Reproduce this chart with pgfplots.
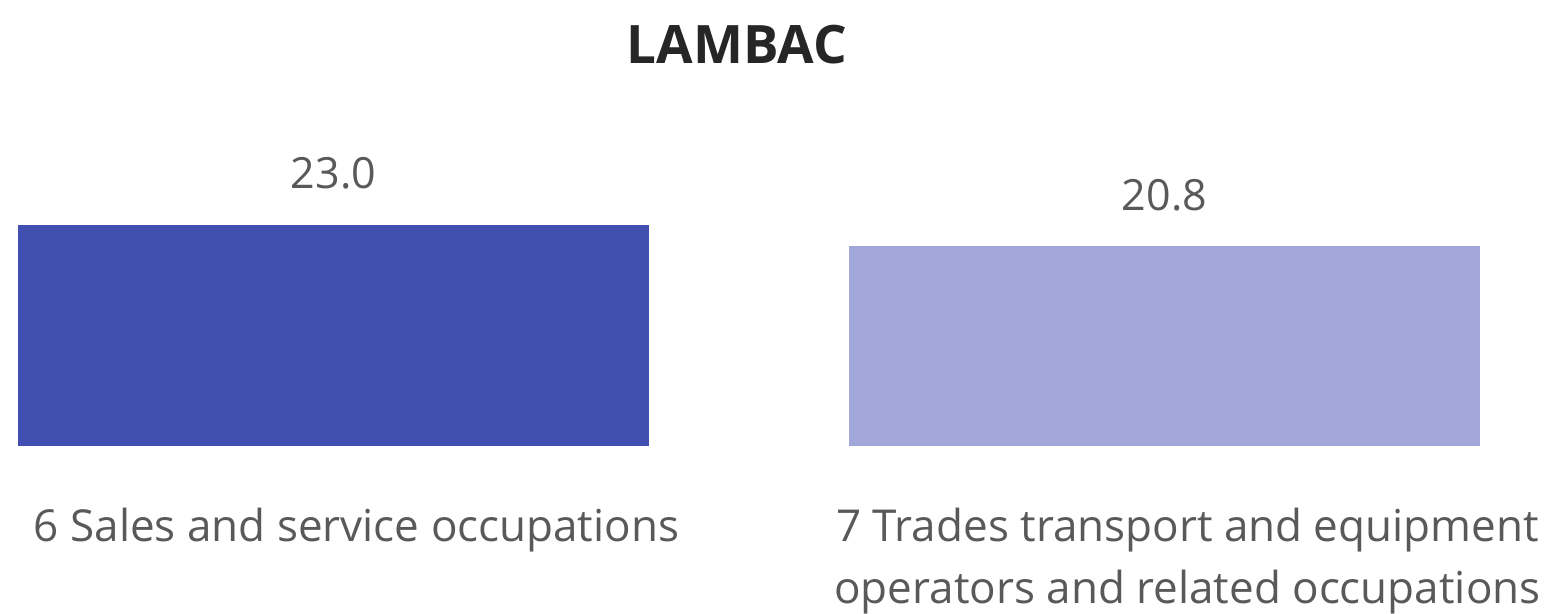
\documentclass[border=0pt]{standalone}
\usepackage{pgfplots}
\pgfplotsset{compat=1.18}
\usepackage{fontspec}
\setmainfont{Open Sans}
\definecolor{barA}{HTML}{4150B0}
\definecolor{barB}{HTML}{A1A7D8}
\definecolor{txt}{HTML}{595959}
\definecolor{ttl}{HTML}{262626}
\begin{document}
\begin{tikzpicture}
\begin{axis}[
  width=776pt, height=306.5pt, scale only axis,
  xmin=-0.4013, xmax=1.4663, ymin=-17.38, ymax=46.41,
  clip=false,
  /pgf/number format/assume math mode=true,
  axis line style={draw=none}, tick style={draw=none},
  ytick=\empty,
  xtick={0,1},
  xticklabels={6 Sales and service occupations, {7 Trades transport and equipment\\operators and related occupations}},
  xticklabel style={align=center, font=\fontsize{22}{31}\selectfont, text=txt, inner sep=0pt, yshift=57pt, xshift=11.5pt},
  ybar, bar width=0.759, bar shift=0pt,
  nodes near coords={\pgfmathprintnumber[fixed,fixed zerofill,precision=1,assume math mode=true]{\pgfplotspointmeta}},
  every node near coord/.append style={font=\fontsize{21.5}{25}\selectfont, text=txt, inner sep=0pt, anchor=south, yshift=17.5pt},
]
\addplot[fill=barA, draw=none] coordinates {(0,23.0)};
\addplot[fill=barB, draw=none] coordinates {(1,20.8)};
\node[font=\bfseries\fontsize{26.5}{32}\selectfont, text=ttl, anchor=base] at (rel axis cs:0.4749,0.8956) {LAMBAC};
\coordinate (bl) at (rel axis cs:0,0);
\coordinate (tr) at (rel axis cs:1,1);
\end{axis}
\pgfresetboundingbox
\path[use as bounding box] (bl) rectangle (tr);
\end{tikzpicture}
\end{document}
